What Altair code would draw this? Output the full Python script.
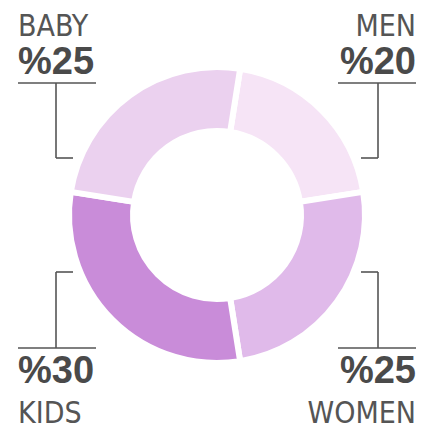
import math
import altair as alt
import pandas as pd

# ---- data ----
categories = ["MEN", "WOMEN", "KIDS", "BABY"]
values = [20, 25, 30, 25]
colors = ["#f6e4f6", "#e0baea", "#c98cd9", "#ebd1ef"]

# ---- layout (styles / positions, not data) ----
W = 416
PAD_T = 8
H = 416 - PAD_T
CX, CY = 209, 207
START = math.radians(9)
OUTER, INNER = 148, 84
LEFT_X, RIGHT_X = 10, 408
UL_LEN = 78
STEM_OFF = 38
ARM = 17
TOP = dict(name_y=28, num_y=66, ul_y=75, elbow_y=150)
BOT = dict(num_y=375, name_y=415, ul_y=340, elbow_y=264)
TEXT_COLOR = "#555555"
NUM_COLOR = "#4a4a4a"

xs = alt.Scale(domain=[0, W], range=[0, W], zero=False, nice=False)
ys = alt.Scale(domain=[PAD_T, PAD_T + H], range=[0, H], zero=False, nice=False)

df = pd.DataFrame({"cat": categories, "val": values, "idx": range(len(categories))})

arc = alt.Chart(df).mark_arc(
    outerRadius=OUTER, innerRadius=INNER, stroke="white", strokeWidth=6
).encode(
    theta=alt.Theta("val:Q", stack=True,
                    scale=alt.Scale(range=[START, START + 2 * math.pi])),
    color=alt.Color("cat:N", scale=alt.Scale(domain=categories, range=colors), legend=None),
    order=alt.Order("idx:Q"),
    x=alt.X(datum=CX, type="quantitative", scale=xs, axis=None),
    y=alt.Y(datum=CY, type="quantitative", scale=ys, axis=None),
)

# label placement derived from each slice's mid angle
total = sum(values)
texts, segs = [], []
cum = 0
for c, v in zip(categories, values):
    mid = START + 2 * math.pi * (cum + v / 2) / total
    cum += v
    right = math.sin(mid) > 0
    top = math.cos(mid) > 0
    x = RIGHT_X if right else LEFT_X
    side = "right" if right else "left"
    ul0, ul1 = (RIGHT_X - UL_LEN, RIGHT_X) if right else (LEFT_X, LEFT_X + UL_LEN)
    stem = (RIGHT_X - STEM_OFF) if right else (LEFT_X + STEM_OFF)
    arm_end = stem - ARM if right else stem + ARM
    g = TOP if top else BOT
    texts.append(dict(t=c, x=x, y=g["name_y"], side=side, kind="name"))
    texts.append(dict(t="%" + str(v), x=x, y=g["num_y"], side=side, kind="num"))
    segs.append(dict(x=ul0, x2=ul1, y=g["ul_y"], y2=g["ul_y"]))
    segs.append(dict(x=stem, x2=stem, y=g["ul_y"], y2=g["elbow_y"]))
    segs.append(dict(x=stem, x2=arm_end, y=g["elbow_y"], y2=g["elbow_y"]))

tdf = pd.DataFrame(texts)
sdf = pd.DataFrame(segs)

rules = alt.Chart(sdf).mark_rule(color="#555555", strokeWidth=1.6).encode(
    x=alt.X("x:Q", scale=xs, axis=None),
    x2="x2:Q",
    y=alt.Y("y:Q", scale=ys, axis=None),
    y2="y2:Q",
)

def text_layer(kind, side, **kw):
    d = tdf[(tdf["kind"] == kind) & (tdf["side"] == side)]
    return alt.Chart(d).mark_text(align=side, baseline="alphabetic", **kw).encode(
        x=alt.X("x:Q", scale=xs, axis=None),
        y=alt.Y("y:Q", scale=ys, axis=None),
        text="t:N",
    )

name_kw = dict(font="DejaVu Sans Condensed, Roboto, sans-serif", fontSize=30,
               fontWeight=300, color=TEXT_COLOR)
num_kw = dict(font="Liberation Sans, Arial, sans-serif", fontSize=38,
              fontWeight="bold", color=NUM_COLOR)

chart = alt.layer(
    arc, rules,
    text_layer("name", "left", **name_kw), text_layer("name", "right", **name_kw),
    text_layer("num", "left", **num_kw), text_layer("num", "right", **num_kw),
).resolve_scale(x="shared", y="shared").properties(
    width=W, height=H, autosize="none",
    padding={"left": 0, "top": PAD_T, "right": 0, "bottom": 8},
).configure_view(stroke=None)

chart.save("out.html", embed_options={"renderer": "svg", "actions": False})
